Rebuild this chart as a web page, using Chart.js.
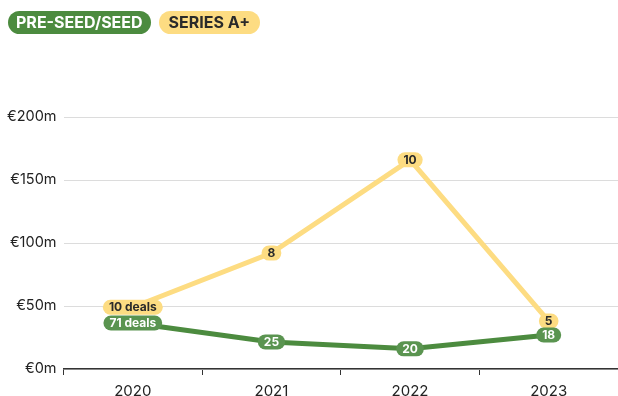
<!DOCTYPE html>
<html>
<head>
<meta charset="utf-8">
<script src="https://cdn.jsdelivr.net/npm/chart.js@4"></script>
<style>
  body { margin: 0; background: #fff; font-family: Inter, sans-serif; overflow: hidden; }
  #wrap { position: relative; width: 618px; height: 396px; overflow: hidden; }
  #legend { position: absolute; left: 8px; top: 11px; display: flex; gap: 8px; z-index: 2; }
  .pill { font-weight: 700; font-size: 16px; line-height: 23px; height: 23px; padding: 0 10px; border-radius: 12px; }
</style>
</head>
<body>
<div id="wrap">
  <div id="legend">
    <div class="pill" style="background:#4c8b3f;color:#fff;padding:0 8px">PRE-SEED/SEED</div>
    <div class="pill" style="background:#fddc82;color:#2a2a2a">SERIES A+</div>
  </div>
  <canvas id="chart" width="618" height="407"></canvas>
</div>
<script>
// Data
const years = ['2020', '2021', '2022', '2023'];
const seedAmounts = [36.5, 21.5, 16, 27];
const seriesAmounts = [49, 92, 166, 38];
const seedDeals = ['71 deals', '25', '20', '18'];
const seriesDeals = ['10 deals', '8', '10', '5'];

const green = '#4c8b3f';
const yellow = '#fddc82';

// draw rounded pill labels on each point
const pillLabels = {
  id: 'pillLabels',
  afterDatasetsDraw(chart) {
    const ctx = chart.ctx;
    ctx.save();
    ctx.font = 'bold 12px Inter, sans-serif';
    ctx.textAlign = 'center';
    ctx.textBaseline = 'middle';
    [1, 0].forEach(di => {
      const ds = chart.data.datasets[di];
      const meta = chart.getDatasetMeta(di);
      meta.data.forEach((pt, i) => {
        const text = ds.dealLabels[i];
        const w = ctx.measureText(text).width + 12;
        const h = 15;
        ctx.fillStyle = ds.pillColor;
        ctx.beginPath();
        ctx.roundRect(pt.x - w / 2, pt.y - h / 2, w, h, h / 2);
        ctx.fill();
        ctx.fillStyle = ds.pillText;
        ctx.fillText(text, pt.x, pt.y + 0.5);
      });
    });
    ctx.restore();
  }
};

new Chart(document.getElementById('chart'), {
  type: 'line',
  data: {
    labels: years,
    datasets: [
      {
        label: 'PRE-SEED/SEED',
        data: seedAmounts,
        borderColor: green,
        borderWidth: 5,
        pointRadius: 0,
        dealLabels: seedDeals,
        pillColor: '#5a9450',
        pillText: '#fff'
      },
      {
        label: 'SERIES A+',
        data: seriesAmounts,
        borderColor: yellow,
        borderWidth: 5,
        pointRadius: 0,
        dealLabels: seriesDeals,
        pillColor: yellow,
        pillText: '#2a2a2a'
      }
    ]
  },
  options: {
    responsive: false,
    animation: false,
    layout: { padding: { top: 117, right: 0, left: 0, bottom: 0 } },
    plugins: { legend: { display: false }, tooltip: { enabled: false } },
    scales: {
      x: {
        offset: true,
        grid: { display: true, drawOnChartArea: false, offset: true, tickLength: 6, color: '#333' },
        border: { color: '#333', width: 1.5 },
        ticks: { color: '#222', font: { family: 'Inter', size: 15 }, padding: 7 }
      },
      y: {
        min: 0,
        max: 200,
        border: { display: false },
        grid: { color: '#dcdcdc', drawTicks: false },
        ticks: {
          stepSize: 50,
          padding: 7,
          color: '#222',
          font: { family: 'Inter', size: 14.5 },
          callback: v => '€' + v + 'm'
        }
      }
    }
  },
  plugins: [pillLabels]
});
</script>
</body>
</html>
